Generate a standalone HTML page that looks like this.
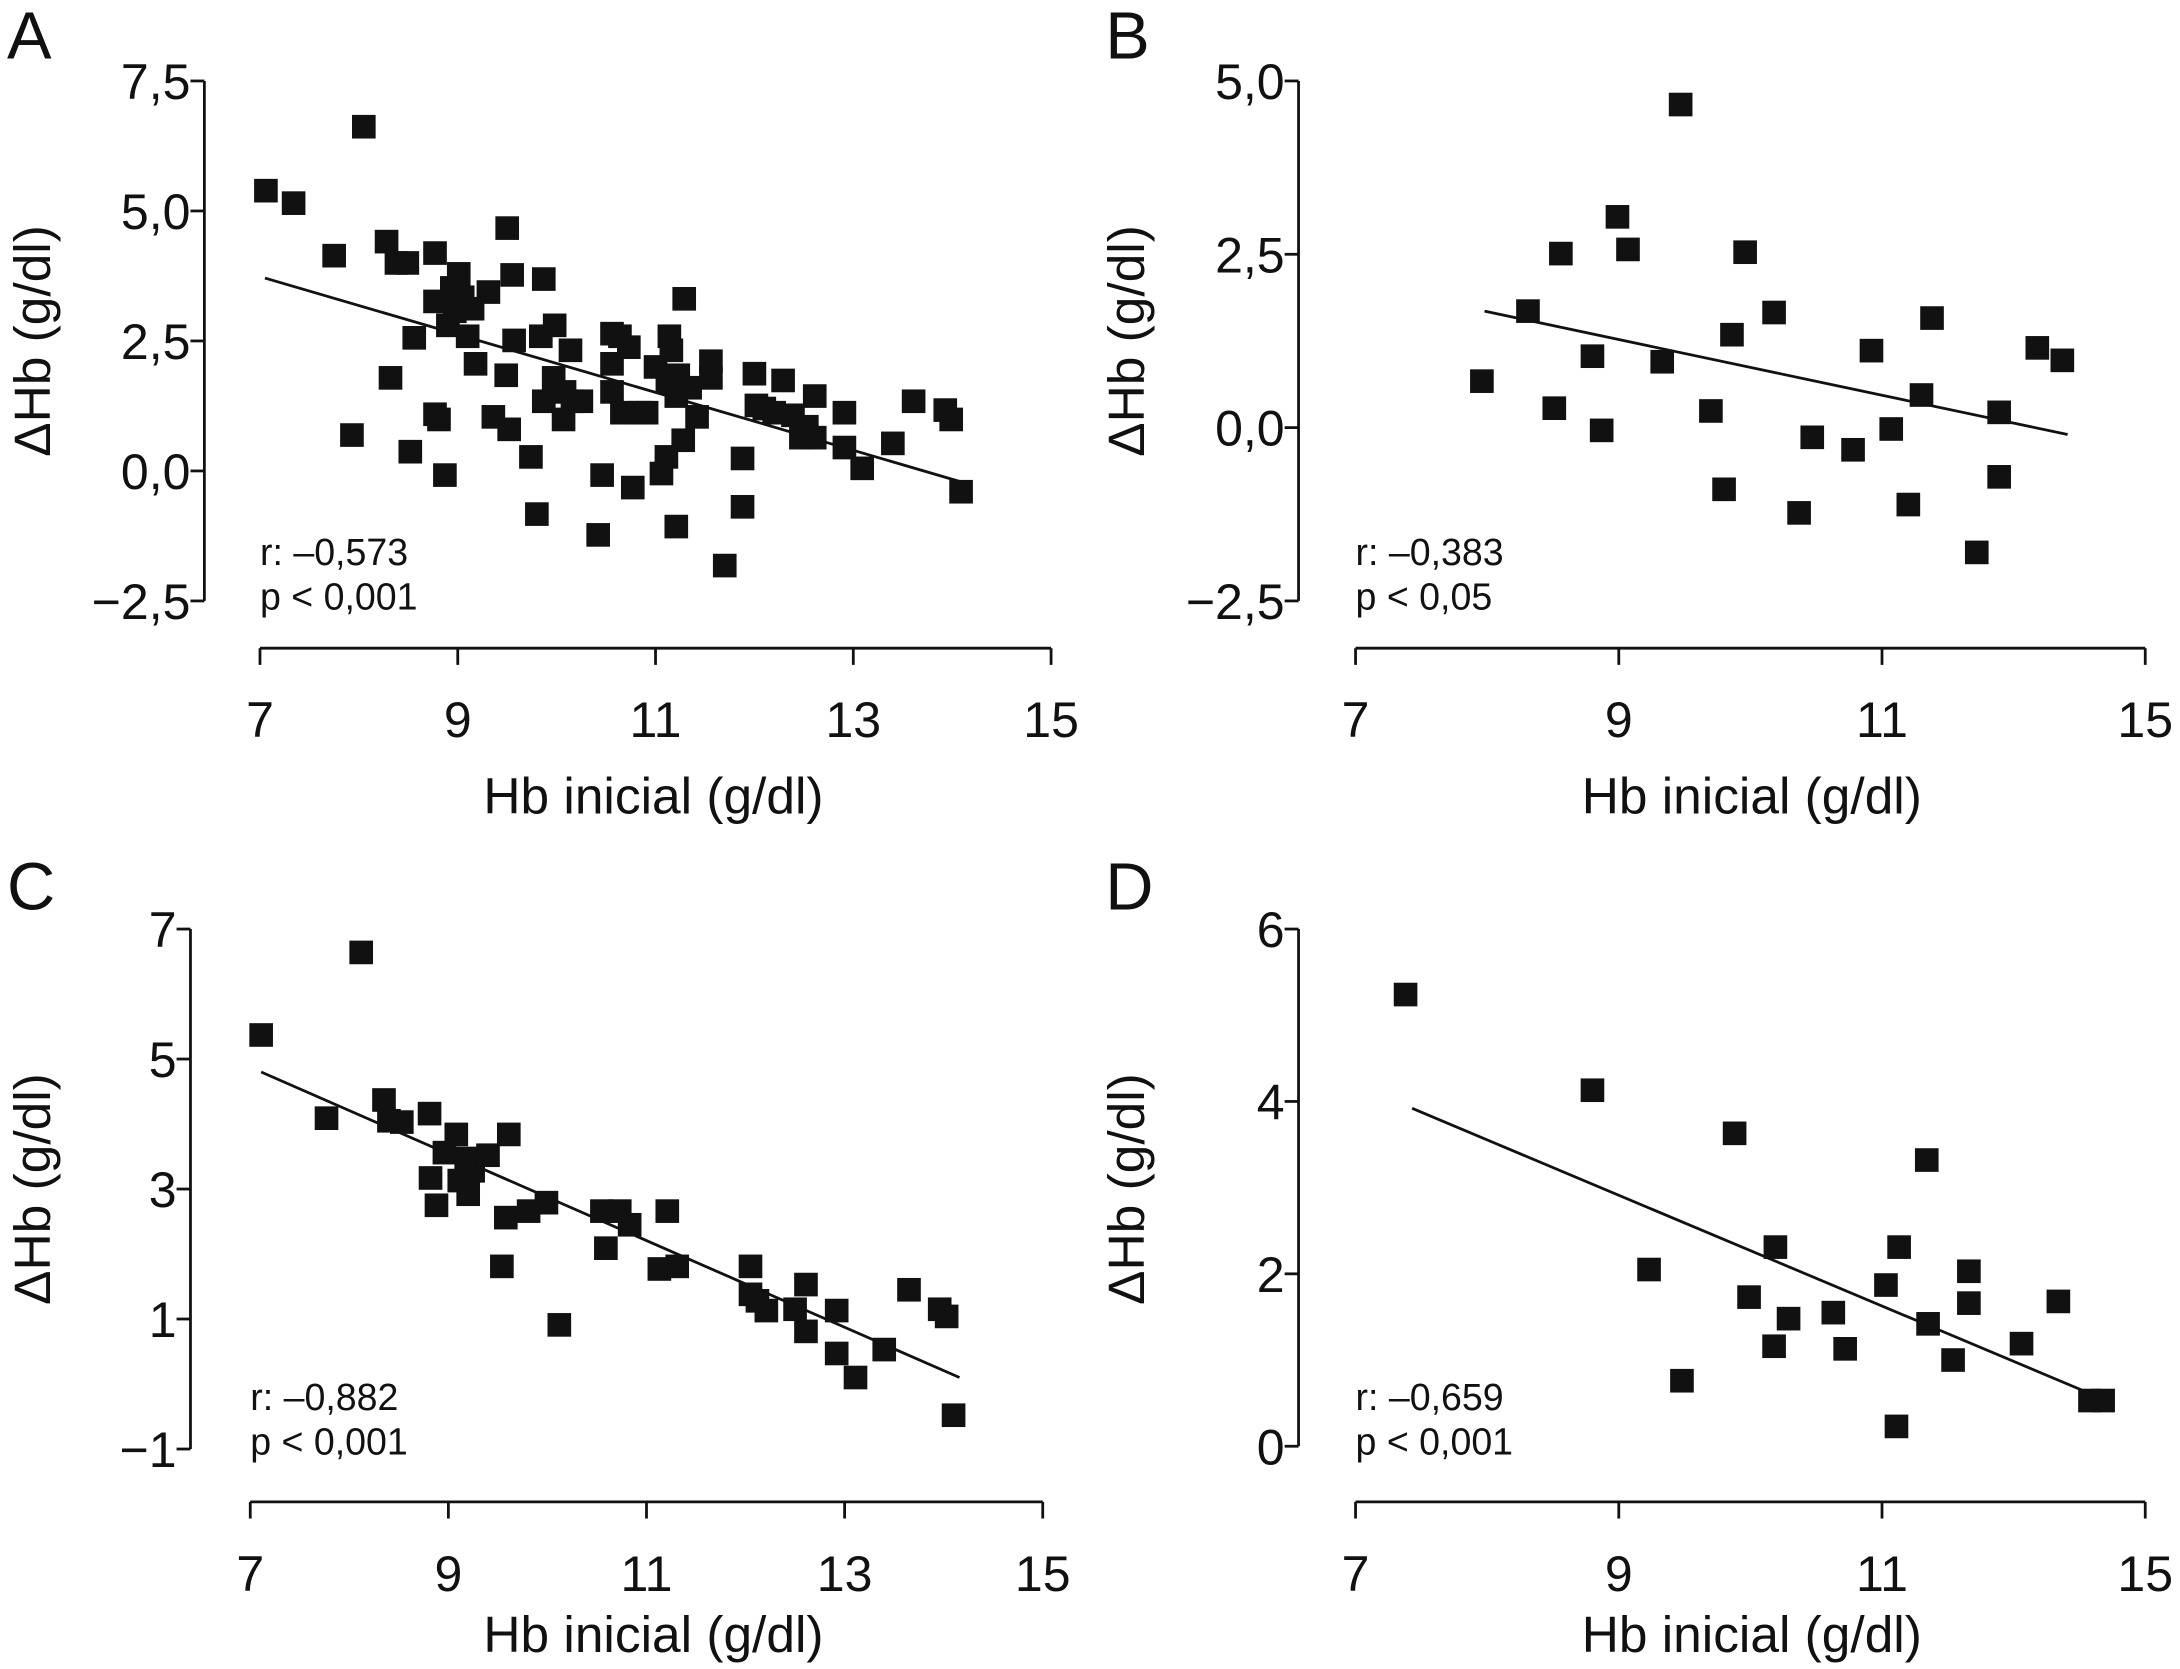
<!DOCTYPE html>
<html><head><meta charset="utf-8"><style>
html,body{margin:0;padding:0;background:#fff}
svg{display:block}
text{font-family:"Liberation Sans",sans-serif;fill:#111}
</style></head><body>
<svg id="fig" width="2180" height="1669" viewBox="0 0 1568 1200" xmlns="http://www.w3.org/2000/svg"></svg>
<script>
// Panel A data
const aX=[7.06,7.34,7.75,8.05,7.93,8.28,8.32,8.38,8.49,8.56,8.52,8.77,8.77,8.77,8.81,8.87,8.9,8.94,8.97,9.01,9.05,9.10,9.15,9.18,9.31,9.36,9.5,9.55,9.49,9.52,9.57,9.74,9.80,9.84,9.87,9.87,9.98,9.97,10.07,10.08,10.14,10.16,10.25,10.46,10.42,10.56,10.56,10.56,10.64,10.66,10.73,10.77,10.84,10.91,11.0,11.06,11.11,11.14,11.12,11.16,11.21,11.21,11.23,11.28,11.29,11.35,11.42,11.56,11.56,11.70,11.88,11.88,12.0,12.02,12.1,12.2,12.29,12.39,12.47,12.53,12.61,12.61,12.91,12.91,13.09,13.4,13.61,13.93,13.99,14.09];
const aY=[5.39,5.15,4.14,6.62,0.69,4.41,1.79,4.0,4.0,2.56,0.37,4.19,3.26,1.09,0.99,-0.08,2.80,3.52,3.07,3.79,3.34,2.59,3.12,2.06,3.44,1.04,4.67,3.77,1.84,0.80,2.51,0.27,-0.83,2.59,3.69,1.34,2.8,1.79,0.99,1.52,2.32,1.34,1.34,-0.08,-1.23,2.64,2.06,1.52,2.59,1.12,2.38,-0.32,1.12,1.12,2.0,-0.05,0.27,2.59,1.71,2.32,1.44,-1.07,1.84,0.59,3.31,1.60,1.04,2.11,1.79,-1.82,0.24,-0.69,1.87,1.26,1.20,1.12,1.74,1.07,0.64,0.85,1.44,0.64,1.12,0.45,0.05,0.53,1.34,1.17,0.99,-0.4];
const aFit=[[7.05,3.71],[14.09,-0.21]];
const aYTicks=[7.5,5.0,2.5,0.0,-2.5];
const aYLabels=["7,5","5,0","2,5","0,0","\u22122,5"];
// Panel B data
const bX=[7.96,8.31,8.51,8.56,8.80,8.87,8.99,9.07,9.33,9.47,9.70,9.80,9.86,9.96,10.18,10.37,10.47,10.78,10.92,11.07,11.20,11.30,11.38,11.72,11.89,11.89,12.18,12.37];
const bY=[0.67,1.68,0.28,2.51,1.03,-0.04,3.04,2.57,0.95,4.66,0.24,-0.89,1.34,2.53,1.66,-1.23,-0.14,-0.32,1.11,-0.02,-1.11,0.47,1.58,-1.80,0.22,-0.71,1.15,0.97];
const bFit=[[7.98,1.68],[12.41,-0.10]];
const bYTicks=[5.0,2.5,0.0,-2.5];
const bYLabels=["5,0","2,5","0,0","\u22122,5"];
// Panel C data
const cX=[7.11,7.77,8.12,8.35,8.40,8.53,8.81,8.82,8.88,8.96,9.08,9.11,9.18,9.20,9.25,9.40,9.54,9.58,9.61,9.81,9.99,10.12,10.55,10.59,10.73,10.83,11.13,11.21,11.31,12.05,12.05,12.12,12.21,12.50,12.61,12.61,12.92,12.92,13.11,13.40,13.65,13.96,14.03,14.10];
const cY=[5.37,4.09,6.64,4.37,4.05,4.03,4.16,3.17,2.75,3.56,3.84,3.13,3.47,2.92,3.28,3.52,1.81,2.56,3.84,2.66,2.79,0.91,2.66,2.09,2.66,2.45,1.77,2.66,1.81,1.81,1.38,1.28,1.13,1.15,1.53,0.81,1.13,0.47,0.10,0.53,1.45,1.15,1.04,-0.48];
const cFit=[[7.11,4.80],[14.16,0.10]];
const cYTicks=[7,5,3,1,-1];
const cYLabels=["7","5","3","1","\u22121"];
// Panel D data
const dX=[7.38,8.80,9.23,9.48,9.88,9.99,10.19,10.18,10.29,10.63,10.72,11.03,11.11,11.13,11.34,11.35,11.54,11.66,11.66,12.06,12.34,12.58,12.68];
const dY=[5.24,4.13,2.05,0.76,3.63,1.73,2.31,1.16,1.48,1.55,1.13,1.87,0.23,2.31,3.32,1.42,1.0,2.03,1.66,1.19,1.68,0.53,0.53];
const dFit=[[7.43,3.92],[12.63,0.58]];
const dYTicks=[6,4,2,0];
const dYLabels=["6","4","2","0"];
const xTicksA=[7,9,11,13,15];
const xLabelsA=["7","9","11","13","15"];
const xTicksB=[7,9,11,13];
const xLabelsB=["7","9","11","15"];

const NS="http://www.w3.org/2000/svg";
const svg=document.getElementById('fig');
function mk(tag,attrs,parent){const e=document.createElementNS(NS,tag);for(const k in attrs)e.setAttribute(k,attrs[k]);(parent||svg).appendChild(e);return e;}

const panels=[
 {id:'a',letter:'A',lx:5,ly:42,yax:147,yv:[-2.5,7.5],yp:[432,58],xax:466,xv:[7,15],xp:[187,756],xt:xTicksA,xl:xLabelsA,yt:aYTicks,yl:aYLabels,X:aX,Y:aY,fit:aFit,r:"r: \u20130,573",p:"p < 0,001",ax:187,ay:406,ylx:36,ylc:245,xlc:470,xly:585},
 {id:'b',letter:'B',lx:795,ly:42,yax:934,yv:[-2.5,5.0],yp:[432,58],xax:466,xv:[7,13],xp:[975,1543],xt:xTicksB,xl:xLabelsB,yt:bYTicks,yl:bYLabels,X:bX,Y:bY,fit:bFit,r:"r: \u20130,383",p:"p < 0,05",ax:975,ay:406,ylx:823,ylc:245,xlc:1260,xly:585},
 {id:'c',letter:'C',lx:5,ly:654,yax:137,yv:[-1,7],yp:[1042,668],xax:1080,xv:[7,15],xp:[180,750],xt:xTicksA,xl:xLabelsA,yt:cYTicks,yl:cYLabels,X:cX,Y:cY,fit:cFit,r:"r: \u20130,882",p:"p < 0,001",ax:180,ay:1014,ylx:36,ylc:855,xlc:470,xly:1188},
 {id:'d',letter:'D',lx:795,ly:654,yax:934,yv:[0,6],yp:[1040,668],xax:1080,xv:[7,13],xp:[975,1543],xt:xTicksB,xl:xLabelsB,yt:dYTicks,yl:dYLabels,X:dX,Y:dY,fit:dFit,r:"r: \u20130,659",p:"p < 0,001",ax:975,ay:1014,ylx:823,ylc:855,xlc:1260,xly:1188}
];

panels.forEach(P=>{
  const g=mk('g',{});
  
  
  const sx=v=>P.xp[0]+(v-P.xv[0])*(P.xp[1]-P.xp[0])/(P.xv[1]-P.xv[0]);
  const sy=v=>P.yp[0]+(v-P.yv[0])*(P.yp[1]-P.yp[0])/(P.yv[1]-P.yv[0]);
  const L=mk('text',{x:P.lx,y:P.ly,'font-size':48},g);L.textContent=P.letter;
  
  const ya=mk('line',{x1:P.yax,x2:P.yax,y1:P.yp[1],y2:P.yp[0],stroke:'#111','stroke-width':2},g);
  
  P.yt.forEach((v,i)=>{
    const y=sy(v);
    mk('line',{x1:P.yax-10,x2:P.yax,y1:y,y2:y,stroke:'#111','stroke-width':2},g);
    const t=mk('text',{x:P.yax-10,y:y+13,'font-size':36,'text-anchor':'end'},g);t.textContent=P.yl[i];
    
  });
  const xa=mk('line',{x1:P.xp[0],x2:P.xp[1],y1:P.xax,y2:P.xax,stroke:'#111','stroke-width':2},g);
  
  P.xt.forEach((v,i)=>{
    const x=sx(v);
    mk('line',{x1:x,x2:x,y1:P.xax,y2:P.xax+12,stroke:'#111','stroke-width':2},g);
    const t=mk('text',{x:x,y:P.xax+64,'font-size':36,'text-anchor':'middle'},g);t.textContent=P.xl[i];
    
  });
  const xt=mk('text',{x:P.xlc,y:P.xly,'font-size':37,'text-anchor':'middle'},g);xt.textContent='Hb inicial (g/dl)';
  
  const yt=mk('text',{x:0,y:0,'font-size':37,'text-anchor':'middle',transform:`translate(${P.ylx},${P.ylc}) rotate(-90)`},g);yt.textContent='\u0394Hb (g/dl)';
  
  P.X.forEach((v,i)=>{
    const r=mk('rect',{x:sx(v)-8.5,y:sy(P.Y[i])-8.5,width:17,height:17,fill:'#111'},g);
    
    
  });
  const fl=mk('line',{x1:sx(P.fit[0][0]),y1:sy(P.fit[0][1]),x2:sx(P.fit[1][0]),y2:sy(P.fit[1][1]),stroke:'#111','stroke-width':2},g);
  
  const a1=mk('text',{x:P.ax,y:P.ay,'font-size':27},g);a1.textContent=P.r;
  
  const a2=mk('text',{x:P.ax,y:P.ay+32,'font-size':27},g);a2.textContent=P.p;
  
});
</script>
</body></html>
